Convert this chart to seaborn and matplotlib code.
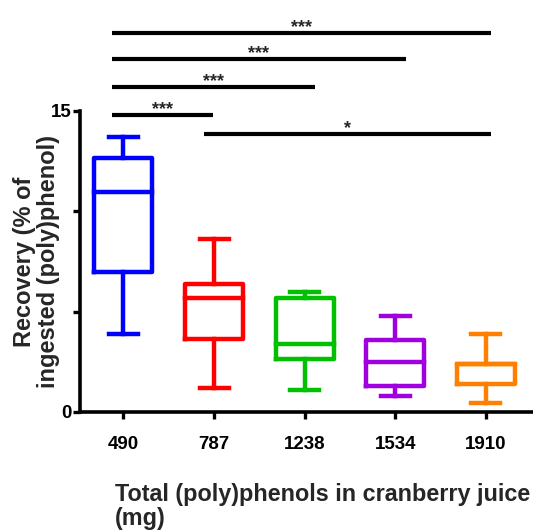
import numpy as np
import pandas as pd
import seaborn as sns
import matplotlib
matplotlib.use('Agg')
import matplotlib.pyplot as plt

sns.set_theme(style='ticks')
plt.rcParams['font.family'] = ['Liberation Sans', 'DejaVu Sans']
plt.rcParams['font.weight'] = 'bold'

# groups: total (poly)phenols in cranberry juice (mg)
doses = ['490', '787', '1238', '1534', '1910']
# five-number summaries: min, Q1, median, Q3, max
rec_490 = [3.90, 6.99, 10.98, 12.67, 13.69]
rec_787 = [1.20, 3.62, 5.67, 6.36, 8.60]
rec_1238 = [1.11, 2.66, 3.39, 5.69, 5.96]
rec_1534 = [0.80, 1.30, 2.48, 3.59, 4.78]
rec_1910 = [0.46, 1.40, 2.38, 2.38, 3.89]
colors = ['#0000FF', '#FF0000', '#00C000', '#A000E0', '#FF8000']

# significance brackets: (from group, to group, label, y)
pairs = [(0, 4, '***', 18.9), (0, 3, '***', 17.58), (0, 2, '***', 16.19),
         (0, 1, '***', 14.8), (1, 4, '*', 13.87)]

df = pd.DataFrame({
    'dose': np.repeat(doses, 5),
    'rec': rec_490 + rec_787 + rec_1238 + rec_1534 + rec_1910,
})

fig = plt.figure(figsize=(5.33, 5.32), dpi=100)
ax = fig.add_axes([0.150, 0.2256, 0.85, 0.5658])
sns.boxplot(data=df, x='dose', y='rec', hue='dose', palette=colors,
            fill=False, whis=(0, 100), width=0.64, linewidth=3.2,
            legend=False, ax=ax)
for ln in ax.lines:
    ln.set_solid_capstyle('projecting')

ax.set_xlim(-0.48, 4.52)
ax.set_ylim(0, 15)
ax.set_yticks([0, 5, 10, 15], ['0', '', '', '15'])
sns.despine(ax=ax)
for s in ['left', 'bottom']:
    ax.spines[s].set_linewidth(2.6)
    ax.spines[s].set_color('black')
ax.tick_params(axis='both', width=2.4, length=5, labelsize=13.5, colors='black')
ax.tick_params(axis='x', pad=12)
ax.tick_params(axis='y', pad=1)
for t in ax.get_xticklabels() + ax.get_yticklabels():
    t.set_fontweight('bold')

ax.set_ylabel('Recovery (% of\ningested (poly)phenol)', fontsize=17,
              fontweight='bold', linespacing=1.05)
ax.yaxis.set_label_coords(-0.095, 0.5)
ax.yaxis.label.set_verticalalignment('center')
ax.set_xlabel('')
fig.text(0.216, 0.092, 'Total (poly)phenols in cranberry juice\n(mg)',
         fontsize=16.8, fontweight='bold', ha='left', va='top',
         linespacing=1.08)

for a, b, lab, y in pairs:
    x0 = a - 0.13 if a == 0 else a - 0.11
    x1 = b + 0.06 if b in (4,) else b + 0.12
    if b == 2:
        x1 = b + 0.11
    if b == 1:
        x1 = b - 0.01
    ax.plot([x0, x1], [y, y], color='black', lw=3, clip_on=False,
            solid_capstyle='butt')
    ax.text((x0 + x1) / 2, y + 0.05, lab, ha='center', va='baseline',
            fontsize=13, fontweight='bold')

fig.savefig('out.png', dpi=100)
